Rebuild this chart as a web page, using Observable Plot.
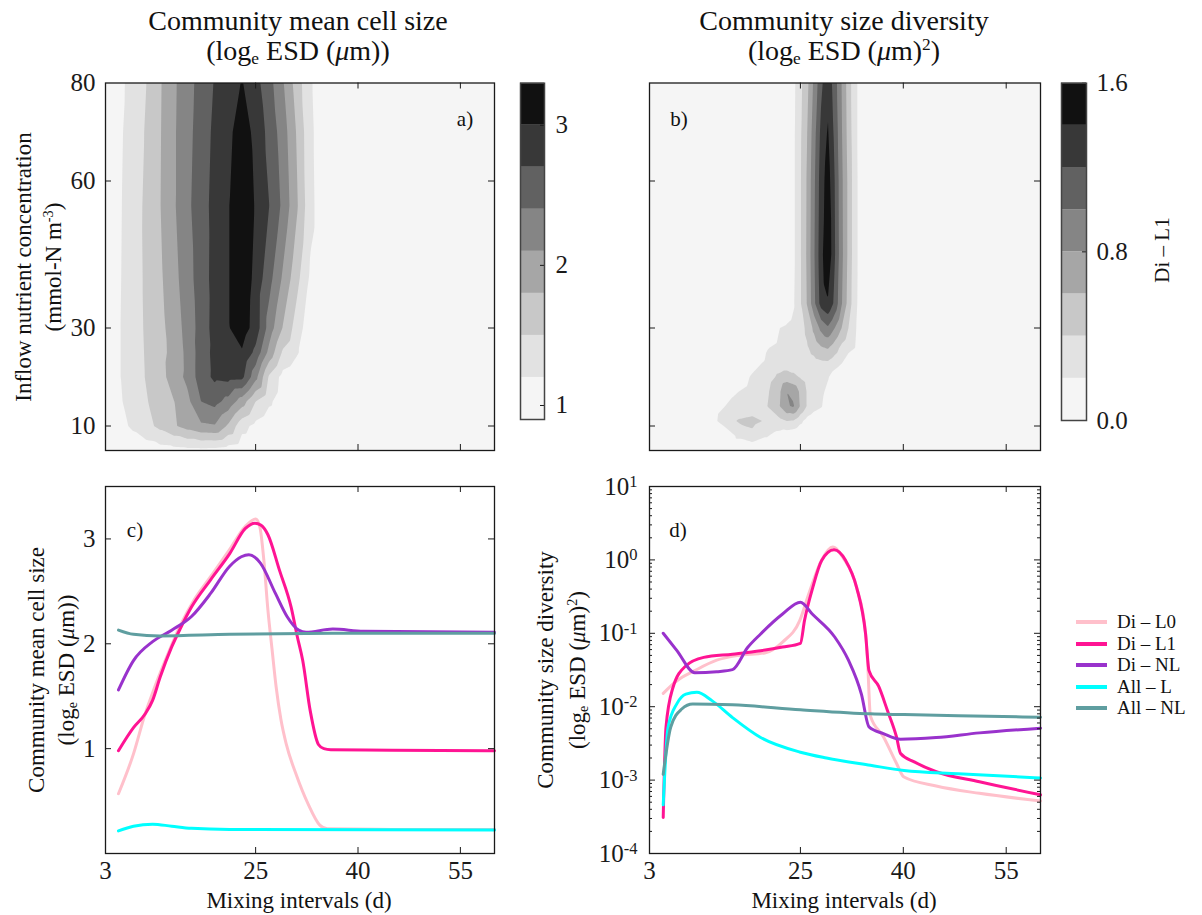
<!DOCTYPE html>
<html><head><meta charset="utf-8">
<script src="https://cdn.jsdelivr.net/npm/d3@7"></script>
<script src="https://cdn.jsdelivr.net/npm/@observablehq/plot@0.6"></script>
<style>
body{margin:0;background:#fff;}
#fig{position:relative;width:1202px;height:915px;font-family:"Liberation Serif","Times New Roman",serif;color:#111;overflow:hidden;background:#fff}
.abs{position:absolute}
.t{position:absolute;white-space:nowrap;transform:translate(-50%,-50%);line-height:1}
.r{transform:translate(-50%,-50%) rotate(-90deg)}
sub{font-size:0.62em;vertical-align:-0.25em;line-height:0}
sup{font-size:0.62em;vertical-align:0.55em;line-height:0}
</style></head><body><div id="fig"></div>
<script>
const INK = "#1a1a1a";
const FONT = '"Liberation Serif", "Times New Roman", serif';
const GRAYS = ["#f5f5f5","#e2e2e2","#c8c8c8","#a6a6a6","#858585","#616161","#383838","#111111"];

// ---- Panel a: community mean cell size (grid of x = mixing interval, y = inflow nutrient)
const aLevels = [0.9,1.2,1.5,1.8,2.1,2.4,2.7,3.0,3.3];
const aX = [3,5,7,9,11,13,15,17,19,21,23,25,27,29,31,33,35,40,50,60];
const aY = [5,10,15,20,25,30,40,55,70,80];
const aZ = [
 [0.95,0.98,1.0,1.05,1.08,1.1,1.12,1.12,1.1,1.05,1.0,0.98,0.98,0.98,0.98,0.98,0.98,0.98,0.98,0.98],
 [0.98,1.1,1.25,1.4,1.58,1.76,1.92,2.05,2.08,1.75,1.3,1.12,1.0,0.98,0.98,0.98,0.98,0.98,0.98,0.98],
 [1.0,1.16,1.32,1.48,1.64,1.79,2.02,2.4,2.5,2.3,1.95,1.5,1.25,1.05,1.0,0.98,0.98,0.98,0.98,0.98],
 [1.0,1.18,1.36,1.52,1.68,1.95,2.17,2.56,2.76,2.8,2.78,2.2,1.45,1.1,1.0,0.98,0.98,0.98,0.98,0.98],
 [1.0,1.18,1.36,1.53,1.7,1.9,2.18,2.55,2.78,2.88,2.97,2.62,2.0,1.45,1.24,1.0,0.98,0.98,0.98,0.98],
 [1.0,1.18,1.37,1.54,1.71,1.94,2.21,2.53,2.81,2.98,3.15,2.88,2.26,1.78,1.37,1.0,0.98,0.98,0.98,0.98],
 [1.0,1.17,1.37,1.55,1.75,2.0,2.27,2.56,2.8,2.98,3.25,2.9,2.5,2.05,1.6,1.15,1.0,0.98,0.98,0.98],
 [1.0,1.16,1.36,1.56,1.79,2.06,2.33,2.58,2.79,2.98,3.25,2.97,2.7,2.33,1.85,1.29,1.0,0.98,0.98,0.98],
 [1.0,1.14,1.35,1.53,1.78,2.06,2.3,2.55,2.76,2.93,3.15,2.92,2.6,2.25,1.78,1.27,1.0,0.98,0.98,0.98],
 [0.95,1.1,1.34,1.5,1.77,2.05,2.28,2.52,2.72,2.83,3.02,2.8,2.51,2.13,1.67,1.24,1.0,0.98,0.98,0.98]
];

// ---- Panel b: community size diversity
const bLevels = [0,0.2,0.4,0.6,0.8,1.0,1.2,1.4,1.6];
const bX = [3,12,14,16,18,20,22,23,24,25,26,27,28,29,30,31,32,33,34,36,60];
const bY = [5,8,11,14,17,20,23,26,30,35,45,60,70,80];
const bZ = [
 [0,0,0,0,0,0,0,0,0,0,0,0,0,0,0,0,0,0,0,0,0],
 [0,0,0.05,0.25,0.35,0.22,0.12,0.08,0.05,0,0,0,0,0,0,0,0,0,0,0,0],
 [0,0.12,0.3,0.42,0.45,0.38,0.35,0.4,0.38,0.25,0.12,0.05,0,0,0,0,0,0,0,0,0],
 [0,0.1,0.2,0.27,0.3,0.38,0.6,0.78,0.82,0.58,0.38,0.28,0.22,0.1,0,0,0,0,0,0,0],
 [0,0.05,0.14,0.2,0.25,0.35,0.58,0.8,0.75,0.56,0.38,0.3,0.25,0.15,0.05,0,0,0,0,0,0],
 [0,0,0.05,0.12,0.22,0.3,0.45,0.5,0.45,0.38,0.32,0.3,0.28,0.22,0.1,0.03,0,0,0,0,0],
 [0,0,0,0.05,0.14,0.22,0.27,0.28,0.28,0.28,0.3,0.34,0.37,0.38,0.3,0.22,0.1,0.03,0,0,0],
 [0,0,0,0,0.04,0.19,0.23,0.24,0.26,0.3,0.38,0.48,0.58,0.62,0.5,0.35,0.26,0.2,0.08,0,0],
 [0,0,0,0,0,0.1,0.2,0.22,0.25,0.32,0.45,0.65,0.85,0.97,0.8,0.6,0.4,0.22,0.08,0,0],
 [0,0,0,0,0,0,0.05,0.1,0.18,0.38,0.62,0.95,1.28,1.38,1.15,0.82,0.52,0.25,0.08,0,0],
 [0,0,0,0,0,0,0,0.05,0.16,0.38,0.64,0.98,1.33,1.58,1.22,0.86,0.55,0.26,0.08,0,0],
 [0,0,0,0,0,0,0,0.05,0.16,0.38,0.63,0.96,1.3,1.5,1.2,0.85,0.55,0.26,0.08,0,0],
 [0,0,0,0,0,0,0,0.05,0.16,0.37,0.6,0.92,1.25,1.42,1.15,0.82,0.52,0.25,0.08,0,0],
 [0,0,0,0,0,0,0,0.05,0.15,0.35,0.55,0.85,1.15,1.35,1.1,0.8,0.5,0.25,0.08,0,0]
];

// ---- Panel c: community mean cell size vs mixing interval
const cDiL0 = [[4.9,0.57],[7.1,0.95],[8.8,1.33],[10,1.55],[12,1.88],[14,2.18],[16,2.42],[18.4,2.64],[21.2,2.9],[23.5,3.12],[25,3.19],[25.6,3.12],[26.2,2.8],[26.8,2.32],[27.4,1.95],[28,1.59],[28.7,1.28],[29.5,1.04],[30.9,0.76],[32.7,0.47],[34.4,0.27],[35.5,0.235],[45,0.23],[60,0.23]];
const cDiL1 = [[4.9,0.98],[7.1,1.2],[8.8,1.33],[9.9,1.46],[11,1.68],[12.7,1.97],[14,2.15],[15.6,2.35],[18.4,2.61],[21.2,2.86],[23.5,3.1],[24.9,3.15],[25.8,3.13],[26.8,3.04],[28.5,2.7],[30.2,2.35],[31.1,2.07],[31.9,1.84],[33,1.36],[34.2,1.04],[35,1.0],[36,0.99],[45,0.985],[60,0.98]];
const cDiNL = [[4.9,1.56],[7.1,1.84],[9.9,2.02],[12.7,2.13],[15.6,2.26],[18.4,2.48],[21.2,2.74],[22.9,2.83],[24,2.85],[25.7,2.77],[27.9,2.48],[29.6,2.26],[31.3,2.13],[32.4,2.11],[36.3,2.14],[40.8,2.12],[60,2.11]];
const cAllL = [[4.9,0.215],[7.1,0.26],[9.9,0.28],[12.7,0.26],[15.6,0.24],[21.2,0.23],[60,0.225]];
const cAllNL = [[4.9,2.13],[7.1,2.09],[11,2.075],[21.2,2.09],[38,2.1],[60,2.1]];

// ---- Panel d: community size diversity vs mixing interval (log scale)
const dDiL0 = [[5,0.0152],[7,0.0226],[9.6,0.031],[12.8,0.043],[16,0.05],[19.8,0.054],[22.4,0.076],[24.9,0.149],[26.2,0.34],[28.1,1.0],[29.7,1.5],[31.3,1.04],[33.2,0.42],[34.5,0.1],[34.8,0.04],[35.2,0.0075],[37.1,0.0039],[39,0.0017],[40.1,0.0011],[44.8,0.00083],[51.1,0.00066],[60,0.00052]];
const dDiL1 = [[5,0.00031],[5.4,0.0052],[6.4,0.018],[8.3,0.036],[10.9,0.047],[15.1,0.052],[19.2,0.058],[22.4,0.065],[25,0.073],[25.6,0.15],[26.8,0.42],[28.1,0.98],[29.9,1.37],[31.6,0.98],[33.2,0.42],[34.5,0.098],[35,0.031],[36.4,0.019],[37.7,0.0088],[39,0.0039],[39.6,0.0023],[41.6,0.00177],[44.8,0.0013],[51.1,0.00095],[60,0.00063]];
const dDiNL = [[5,0.1],[7,0.058],[9.6,0.029],[12.8,0.03],[15.1,0.032],[17.3,0.064],[19.2,0.098],[22.4,0.183],[25,0.265],[26.8,0.18],[30,0.089],[32,0.043],[33.9,0.0147],[35,0.0053],[37.1,0.0043],[39.6,0.0036],[44.8,0.0038],[51.1,0.0044],[60,0.0051]];
const dAllL = [[5,0.00046],[5.7,0.0052],[7,0.011],[8.3,0.0148],[9.9,0.0157],[12.1,0.0121],[15.1,0.0071],[19.2,0.0038],[25,0.0024],[28.8,0.002],[35.2,0.00159],[40.1,0.00135],[48,0.00122],[60,0.00107]];
const dAllNL = [[5,0.0012],[6.1,0.0053],[7.7,0.0093],[9.3,0.0109],[15.1,0.0106],[25,0.0091],[35.2,0.008],[40.1,0.0078],[48,0.0075],[60,0.0072]];

const seriesNames = ["Di – L0","Di – L1","Di – NL","All – L","All – NL"];
const seriesColors = ["#ffc0cb","#ff1493","#9932cc","#00ffff","#5f9ea0"];
const mixTicks = [3,25,40,55];
const nutTicks = [10,30,60,80];
const cTicks = [1,2,3];
const dTicks = [1e-4,1e-3,1e-2,1e-1,1,10];
const cbATicks = [1,2,3];
const cbBTicks = [0,0.8,1.6];

const TICKFS = 25;
const fig = document.getElementById("fig");
function place(node, left, top, w) {
  const d = document.createElement("div");
  d.className = "abs"; d.style.left = left + "px"; d.style.top = top + "px"; d.style.width = w + "px";
  d.appendChild(node); fig.appendChild(d);
}
function label(html, x, y, size, rot) {
  const d = document.createElement("div");
  d.className = "t" + (rot ? " r" : "");
  d.style.left = x + "px"; d.style.top = y + "px"; d.style.fontSize = size + "px";
  d.innerHTML = html; fig.appendChild(d);
}
function gridPoints(X, Y, Z) {
  const out = [];
  Y.forEach((y, j) => X.forEach((x, i) => out.push({x, y, v: Z[j][i]})));
  return out;
}
const style = {fontFamily: FONT, fontSize: TICKFS + "px", color: INK, background: "transparent", overflow: "visible"};
function inTicks(xt, yt, fw, fh, len) {
  const m = [];
  if (xt) {
    m.push(Plot.tickX(xt, {x: d => d, insetTop: fh - len, stroke: INK, strokeWidth: 1}));
    m.push(Plot.tickX(xt, {x: d => d, insetBottom: fh - len, stroke: INK, strokeWidth: 1}));
  }
  if (yt) {
    m.push(Plot.tickY(yt, {y: d => d, insetRight: fw - len, stroke: INK, strokeWidth: 1}));
    m.push(Plot.tickY(yt, {y: d => d, insetLeft: fw - len, stroke: INK, strokeWidth: 1}));
  }
  return m;
}
const intFmt = d3.format("d");

// ---------- Panel a ----------
const FW = 389, FH = 367.5;
const aColor = {type: "threshold", domain: aLevels.slice(1, 8), range: GRAYS};
const plotA = Plot.plot({
  width: 510, height: 420, marginLeft: 105, marginRight: 16, marginTop: 22.5, marginBottom: 30,
  style,
  x: {domain: [3, 60], axis: null},
  y: {domain: [5, 80]},
  color: aColor,
  marks: [
    Plot.frame({fill: GRAYS[0]}),
    Plot.contour(gridPoints(aX, aY, aZ), {x: "x", y: "y", fill: "v", thresholds: aLevels.slice(1, 8), interpolate: "barycentric", blur: 0, pixelSize: 1}),
    ...inTicks([25, 40, 55], [10, 30, 60], FW, FH, 6),
    Plot.axisY({ticks: nutTicks, tickFormat: intFmt, tickSize: 0, tickPadding: 10, label: null, fontSize: TICKFS}),
    Plot.frame({stroke: INK, strokeWidth: 1.3})
  ]
});
place(plotA, 0, 60, 510);

// colorbar a
const plotCA = Plot.plot({
  width: 80, height: 380, marginLeft: 0, marginRight: 56, marginTop: 22.7, marginBottom: 21,
  style,
  x: {domain: [0, 1], axis: null},
  y: {domain: [0.9, 3.3]},
  color: aColor,
  marks: [
    Plot.rect(d3.pairs(aLevels), {x1: () => 0, x2: () => 1, y1: d => d[0], y2: d => d[1], fill: d => d[0]}),
    Plot.tickY(cbATicks, {y: d => d, insetLeft: 20, stroke: INK}),
    Plot.axisY({anchor: "right", ticks: cbATicks, tickFormat: intFmt, tickSize: 0, tickPadding: 11, label: null, fontSize: TICKFS}),
    Plot.frame({stroke: "#444", strokeWidth: 1.5})
  ]
});
place(plotCA, 520, 60, 80);

// ---------- Panel b ----------
const bColor = {type: "threshold", domain: bLevels.slice(1, 8), range: GRAYS};
const plotB = Plot.plot({
  width: 420, height: 420, marginLeft: 29, marginRight: 0, marginTop: 22.5, marginBottom: 30,
  style,
  x: {domain: [3, 60], axis: null},
  y: {domain: [5, 80], axis: null},
  color: bColor,
  marks: [
    Plot.frame({fill: GRAYS[0]}),
    Plot.contour(gridPoints(bX, bY, bZ), {x: "x", y: "y", fill: "v", thresholds: bLevels.slice(1, 8), interpolate: "barycentric", blur: 0, pixelSize: 1}),
    ...inTicks([25, 40, 55], [10, 30, 60], 391, FH, 6),
    Plot.frame({stroke: INK, strokeWidth: 1.3})
  ]
});
place(plotB, 620, 60, 420);

// colorbar b
const plotCB = Plot.plot({
  width: 80, height: 380, marginLeft: 0, marginRight: 55, marginTop: 22.7, marginBottom: 20,
  style,
  x: {domain: [0, 1], axis: null},
  y: {domain: [0, 1.6]},
  color: bColor,
  marks: [
    Plot.rect(d3.pairs(bLevels), {x1: () => 0, x2: () => 1, y1: d => d[0], y2: d => d[1], fill: d => d[0]}),
    Plot.tickY(cbBTicks, {y: d => d, insetLeft: 21, stroke: INK}),
    Plot.axisY({anchor: "right", ticks: cbBTicks, tickFormat: d3.format(".1f"), tickSize: 0, tickPadding: 10, label: null, fontSize: TICKFS}),
    Plot.frame({stroke: "#444", strokeWidth: 1.5})
  ]
});
place(plotCB, 1061, 60, 80);

// ---------- Panel c ----------
const cSeries = [cDiL0, cDiL1, cDiNL, cAllL, cAllNL];
const plotC = Plot.plot({
  width: 510, height: 455, marginLeft: 105, marginRight: 16, marginTop: 26, marginBottom: 62,
  style,
  x: {domain: [3, 60]},
  y: {domain: [0, 3.5]},
  marks: [
    ...cSeries.map((s, i) => Plot.line(s, {x: d => d[0], y: d => d[1], stroke: seriesColors[i], strokeWidth: 3, curve: "monotone-x"})),
    ...inTicks([25, 40, 55], cTicks, FW, 367, 6),
    Plot.axisX({ticks: mixTicks, tickFormat: intFmt, tickSize: 0, tickPadding: 8, label: null, fontSize: TICKFS}),
    Plot.axisY({ticks: cTicks, tickFormat: intFmt, tickSize: 0, tickPadding: 10, label: null, fontSize: TICKFS}),
    Plot.frame({stroke: INK, strokeWidth: 1.3})
  ]
});
place(plotC, 0, 460, 510);

// ---------- Panel d ----------
const dSeries = [dDiL0, dDiL1, dDiNL, dAllL, dAllNL];
const dMinor = [];
for (let e = -4; e <= 0; e++) for (let k = 2; k <= 9; k++) dMinor.push(k * Math.pow(10, e));
const plotD = Plot.plot({
  width: 540, height: 455, marginLeft: 129, marginRight: 20, marginTop: 26, marginBottom: 62,
  style,
  x: {domain: [3, 60]},
  y: {type: "log", domain: [1e-4, 10]},
  marks: [
    ...dSeries.map((s, i) => Plot.line(s, {x: d => d[0], y: d => d[1], stroke: seriesColors[i], strokeWidth: 3, curve: "monotone-x"})),
    ...inTicks([25, 40, 55], dTicks, 391, 367, 6),
    ...inTicks(null, dMinor, 391, 367, 3),
    Plot.axisX({ticks: mixTicks, tickFormat: intFmt, tickSize: 0, tickPadding: 8, label: null, fontSize: TICKFS}),
    Plot.axisY({ticks: dTicks, tickFormat: d => "10^" + Math.round(Math.log10(d)), tickSize: 0, tickPadding: 12, label: null, fontSize: TICKFS}),
    Plot.frame({stroke: INK, strokeWidth: 1.3})
  ]
});
plotD.querySelectorAll('[aria-label="y-axis tick label"] text').forEach(t => {
  const parts = t.textContent.split("^");
  if (parts.length < 2) return;
  t.textContent = parts[0];
  const ts = document.createElementNS("http://www.w3.org/2000/svg", "tspan");
  ts.setAttribute("dy", "-0.45em");
  ts.setAttribute("font-size", "0.66em");
  ts.textContent = parts[1];
  t.appendChild(ts);
});
place(plotD, 520, 460, 540);

// ---------- Text ----------
label("Community mean cell size", 298, 21, 28);
label("(log<sub>e</sub> ESD (<i>μ</i>m))", 298, 51, 28);
label("Community size diversity", 844, 21, 28);
label("(log<sub>e</sub> ESD (<i>μ</i>m)<sup>2</sup>)", 844, 51, 28);
label("Inflow nutrient concentration", 23, 267, 23, true);
label("(mmol-N m<sup>-3</sup>)", 53, 267, 23, true);
label("Community mean cell size", 36, 670, 23, true);
label("(log<sub>e</sub> ESD (<i>μ</i>m))", 66, 670, 23, true);
label("Community size diversity", 545, 670, 23, true);
label("(log<sub>e</sub> ESD (<i>μ</i>m)<sup>2</sup>)", 577, 670, 23, true);
label("Mixing intervals (d)", 299, 900, 23);
label("Mixing intervals (d)", 844, 900, 23);
label("a)", 465, 119, 21);
label("b)", 679, 119, 21);
label("c)", 135, 530, 21);
label("d)", 678, 530, 21);
label("Di – L1", 1162, 250, 21, true);

// ---------- Legend ----------
seriesNames.forEach((n, i) => {
  const y = 622 + i * 21.6;
  const sw = document.createElement("div");
  sw.className = "abs";
  Object.assign(sw.style, {left: "1076px", top: (y - 2) + "px", width: "31px", height: "4px", background: seriesColors[i]});
  fig.appendChild(sw);
  const tx = document.createElement("div");
  tx.className = "abs";
  Object.assign(tx.style, {left: "1117px", top: (y - 9) + "px", fontSize: "19px", lineHeight: "18px", height: "18px", whiteSpace: "nowrap"});
  tx.textContent = n;
  fig.appendChild(tx);
});
</script></body></html>
